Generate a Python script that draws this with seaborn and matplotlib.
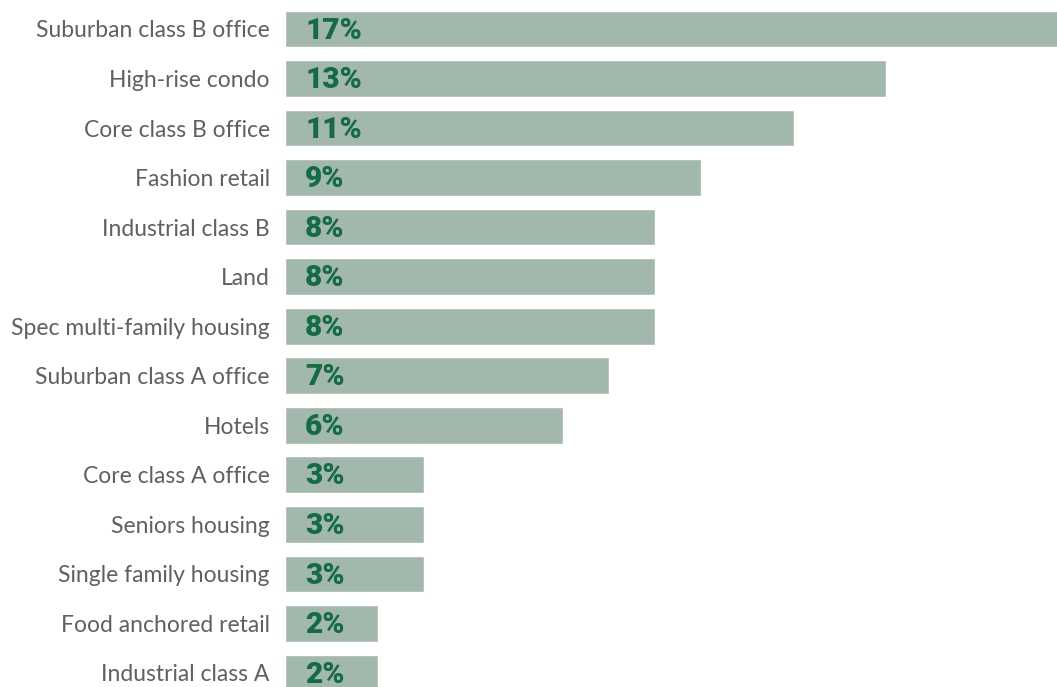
import matplotlib
matplotlib.use("Agg")
import matplotlib.pyplot as plt
import seaborn as sns
import pandas as pd

categories = [
    "Suburban class B office", "High-rise condo", "Core class B office",
    "Fashion retail", "Industrial class B", "Land", "Spec multi-family housing",
    "Suburban class A office", "Hotels", "Core class A office",
    "Seniors housing", "Single family housing", "Food anchored retail",
    "Industrial class A",
]
shares = [17, 13, 11, 9, 8, 8, 8, 7, 6, 3, 3, 3, 2, 2]

df = pd.DataFrame({"category": categories, "share": shares})

sns.set_theme(style="white")
plt.rcParams["font.family"] = ["Lato", "DejaVu Sans"]

fig = plt.figure(figsize=(10.57, 6.87), dpi=100)
ax = fig.add_axes([285 / 1057, 0, 1 - 285 / 1057, 1])

sns.barplot(data=df, x="share", y="category", orient="h",
            color="#a3b8ac", saturation=1, width=0.74, ax=ax)

ax.set_xlim(0, 16.69)
ax.set_ylim(13.283, -0.585)
ax.set_xlabel("")
ax.set_ylabel("")
ax.set_xticks([])
for s in ax.spines.values():
    s.set_visible(False)
ax.tick_params(axis="y", length=0, pad=11)
for lab in ax.get_yticklabels():
    lab.set_fontsize(16.5)
    lab.set_color("#606060")
    lab.set_fontweight("normal")

for i, v in enumerate(shares):
    ax.annotate(f"{v}%", xy=(0, i), xytext=(14.5, -1.2), textcoords="offset points",
                va="center", ha="left", fontsize=21.5, fontweight="black",
                family=["Roboto", "DejaVu Sans"], style="normal",
                color="#156b46")

fig.savefig("out.png", dpi=100)
